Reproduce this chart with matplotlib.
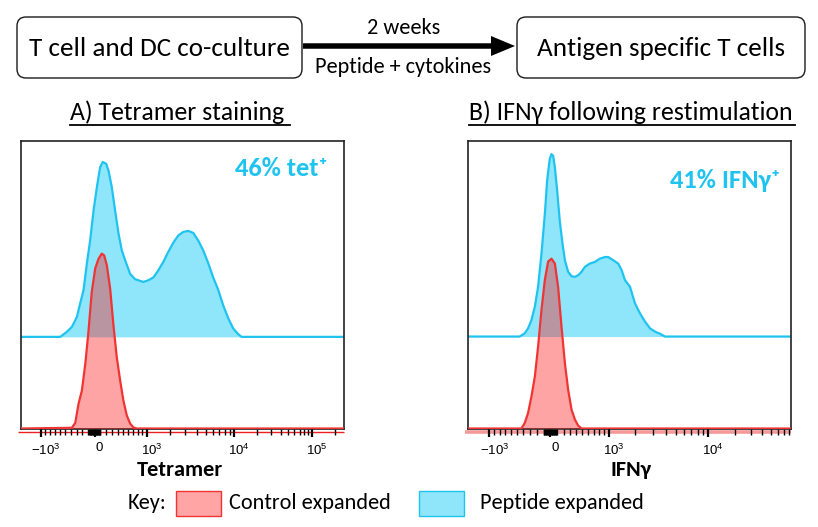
import numpy as np
import matplotlib
matplotlib.use("Agg")
import matplotlib.pyplot as plt
from matplotlib.patches import FancyBboxPatch, FancyArrow, Rectangle
from matplotlib.lines import Line2D
import matplotlib.transforms as mtransforms

# ---------------- data (histograms in display channels 0..1000, normalised to mode) -------------
a_blue_x = [0, 121.5, 142, 157.6, 173, 183, 193.6, 204, 214, 224.5, 235, 245, 253, 263.7, 271, 281,
            291.5, 302, 312, 322, 338, 353, 369, 379, 394.5, 410, 425, 441, 456, 472, 487, 502.6, 518,
            533.5, 549, 564, 580, 595, 611, 626, 642, 657, 672.6, 683, 1000]
a_blue_y = [0, 0, 2.9, 5.7, 11.4, 19, 26.7, 42, 55, 72, 85.7, 97, 100, 99, 95, 85.7, 72, 59, 49.5, 44,
            36, 33, 32, 31.4, 32.4, 34, 38, 43, 48.6, 54, 58, 60, 60.6, 59.4, 55, 49.5, 42, 34, 26.7,
            18, 10.5, 4.8, 1.5, 0, 0]
a_red_x = [0, 157.6, 168, 178, 188.5, 199, 209, 219, 229.7, 240, 250, 257.5, 265.7, 276, 286, 296.6,
           307, 317, 327.5, 338, 348, 358, 1000]
a_red_y = [0, 0.4, 3.2, 14, 21.7, 36.8, 55.7, 78, 91.5, 97, 100, 99, 93.4, 80, 59.4, 40.6, 27.4, 16,
           7.5, 2.8, 0.6, 0, 0]

b_blue_x = [0, 160, 175.8, 186, 196.5, 207, 217, 227.5, 238, 245, 253, 258.5, 263.7, 269, 276, 284,
            292.6, 300, 310, 320.5, 331, 341, 351.6, 362, 377, 393, 408.4, 424, 434, 450, 465, 475.6,
            486, 501.5, 517, 532.5, 548, 563.5, 579, 594.6, 610, 1000]
b_blue_y = [0, 0, 1.8, 4.5, 9.1, 16.4, 27.3, 45.5, 67.3, 85.5, 97.3, 100, 99, 92.7, 80, 63.6, 50.9,
            41.8, 35.5, 33.1, 32.7, 33.6, 35.5, 38.2, 40, 40.9, 42.7, 43.6, 43.6, 41.8, 40, 36.4, 30.9,
            27.3, 18.2, 12.7, 8.2, 4.5, 2.7, 1.5, 0, 0]
b_red_x = [0, 165.4, 175.8, 186, 196.5, 207, 217, 227.5, 238, 248, 258.5, 269, 279, 289.5, 300, 310,
           320.5, 331, 341, 351.6, 1000]
b_red_y = [0, 0, 3.1, 8.5, 17.6, 28.5, 44.9, 65, 81.5, 91.5, 93.1, 90.4, 77.6, 55.8, 35.8, 21.3, 10.4,
           4.9, 1.6, 0, 0]

# logicle-like axis: fluorescence value -> channel (knots)
knot_values = [-1e4, -1e3, 0, 1e3, 1e4, 1e5, 1e6]
a_knot_channels = [-300, 61.9, 227.6, 389.2, 659.4, 899.9, 1140]
b_knot_channels = [-300, 65.9, 255.4, 435.6, 743.0, 1021.6, 1300]
major_values = [-1e3, 0, 1e3, 1e4, 1e5]
major_labels = [r"$\mathregular{-10^{3}}$", "0", r"$\mathregular{10^{3}}$",
                r"$\mathregular{10^{4}}$", r"$\mathregular{10^{5}}$"]

panel_titles = ["A) Tetramer staining", "B) IFNγ following restimulation"]
x_labels = ["Tetramer", "IFNγ"]
pct_labels = ["46% tet⁺", "41% IFNγ⁺"]
legend_labels = ["Control expanded", "Peptide expanded"]

# ---------------- styling ----------------
W, H = 818, 527
FONT = ["Carlito", "Lato", "DejaVu Sans"]
TICKFONT = ["Liberation Sans Narrow", "Liberation Sans", "DejaVu Sans"]
BLUE_EDGE = "#1ec3f0"
BLUE_FILL = "#8fe6fb"
RED_EDGE = "#f03434"
RED_FILL_ALPHA = (1.0, 0.06, 0.06, 0.375)
RED_FILL_SOLID = "#ffa5a5"

plt.rcParams["font.family"] = FONT

fig = plt.figure(figsize=(W / 100, H / 100), dpi=100)

def rect(l, t, r, b):
    return [l / W, 1 - b / H, (r - l) / W, (b - t) / H]

# overlay in pixel coordinates
ov = fig.add_axes([0, 0, 1, 1], zorder=0)
ov.set_xlim(0, W)
ov.set_ylim(H, 0)
ov.axis("off")

for (l, t, r, b), txt in [((17, 17, 302, 78), "T cell and DC co-culture"),
                          ((517, 17, 805, 78), "Antigen specific T cells")]:
    ov.add_patch(FancyBboxPatch((l, t), r - l, b - t, boxstyle="round,pad=0,rounding_size=9",
                                fc="white", ec="#1a1a1a", lw=1.0))
    ov.text((l + r) / 2, (t + b) / 2 + 1, txt, ha="center", va="center", fontsize=19.5, color="black")

ov.add_patch(FancyArrow(303, 46, 212, 0, width=5.5, head_width=20, head_length=24,
                        length_includes_head=True, color="black", lw=0))
ov.text(404, 28, "2 weeks", ha="center", va="center", fontsize=16)
ov.text(403, 67, "Peptide + cytokines", ha="center", va="center", fontsize=16)

# titles with underline
ov.text(70, 112, panel_titles[0], ha="left", va="center", fontsize=18.5)
ov.add_line(Line2D([70, 290], [124.5, 124.5], color="black", lw=1.3))
ov.text(469, 112, panel_titles[1], ha="left", va="center", fontsize=18.5)
ov.add_line(Line2D([469, 795], [124.5, 124.5], color="black", lw=1.3))

# legend
ov.text(147, 503, "Key:", ha="center", va="center", fontsize=16)
ov.add_patch(Rectangle((176, 491), 45, 25, fc=RED_FILL_SOLID, ec=RED_EDGE, lw=1))
ov.text(229, 503, legend_labels[0], ha="left", va="center", fontsize=16)
ov.add_patch(Rectangle((419, 491), 45, 25, fc=BLUE_FILL, ec=BLUE_EDGE, lw=1))
ov.text(480, 503, legend_labels[1], ha="left", va="center", fontsize=16)

panels = [
    dict(rect=(21, 141, 344, 428.5), blue=(a_blue_x, a_blue_y), red=(a_red_x, a_red_y),
         knots=a_knot_channels, offset=52.4, top=164.4, nmaj=5, pct_xy=(281, 168),
         xlabel_xy=(180, 470), redline=dict(lw=1.0, color="#f02020")),
    dict(rect=(468, 141, 791, 428.5), blue=(b_blue_x, b_blue_y), red=(b_red_x, b_red_y),
         knots=b_knot_channels, offset=50.4, top=157.6, nmaj=4, pct_xy=(725, 180),
         xlabel_xy=(631, 470), redline=dict(lw=2.6, color="#f59898")),
]

minor_values = []
for n in range(1, 6):
    for k in range(1, 10):
        v = k * 10 ** n
        if v not in major_values:
            minor_values.append(v)
        if n <= 2 and -v not in major_values:
            minor_values.append(-v)

for i, p in enumerate(panels):
    ax = fig.add_axes(rect(*p["rect"]), zorder=2)
    ax.patch.set_alpha(0)
    kv = np.arcsinh(np.array(knot_values) / 1000.0)
    kc = np.array(p["knots"])
    to_ch = lambda v: np.interp(np.arcsinh(np.asarray(v, float) / 1000.0), kv, kc)

    bx, by = np.array(p["blue"][0]), np.array(p["blue"][1])
    rx, ry = np.array(p["red"][0]), np.array(p["red"][1])
    off = p["offset"]
    ax.fill_between(bx, off, off + by, color=BLUE_FILL, lw=0, zorder=1)
    ax.plot(bx, off + by, color=BLUE_EDGE, lw=1.6, zorder=2)
    ax.fill_between(rx, 0, ry, color=RED_FILL_ALPHA, lw=0, zorder=3)
    ax.plot(rx, ry, color=RED_EDGE, lw=1.6, zorder=4)
    ax.set_xlim(0, 1000)
    ax.set_ylim(0, p["top"])

    nm = p["nmaj"]
    ax.set_xticks(to_ch(major_values[:nm]))
    ax.set_xticklabels(major_labels[:nm], family=TICKFONT, fontsize=9.5)
    mins = [m for m in to_ch(minor_values) if 0 <= m <= 1000]
    ax.set_xticks(mins, minor=True)
    ax.set_yticks([])
    ax.tick_params(axis="x", which="major", direction="out", length=6, width=1.6, pad=4, color="black")
    ax.tick_params(axis="x", which="minor", direction="out", length=4, width=1.0, color="black")
    shift = mtransforms.ScaledTranslation(5 / 100, 0, fig.dpi_scale_trans)
    for lab in ax.get_xticklabels():
        lab.set_transform(lab.get_transform() + shift)
    for s in ax.spines.values():
        s.set_linewidth(1.2)
        s.set_color("#222222")

    # red baseline drawn just under the axis
    ax.plot([-0.01, 1.0], [-0.013, -0.013], transform=ax.transAxes, clip_on=False,
            zorder=0, solid_capstyle="butt", **p["redline"])

    ov.text(p["pct_xy"][0], p["pct_xy"][1], pct_labels[i], ha="center", va="center",
            fontsize=19, fontweight="bold", color=BLUE_EDGE, zorder=5)
    ov.text(p["xlabel_xy"][0], p["xlabel_xy"][1], x_labels[i], ha="center", va="center",
            fontsize=16, fontweight="bold")

fig.savefig("out.png", dpi=100)
